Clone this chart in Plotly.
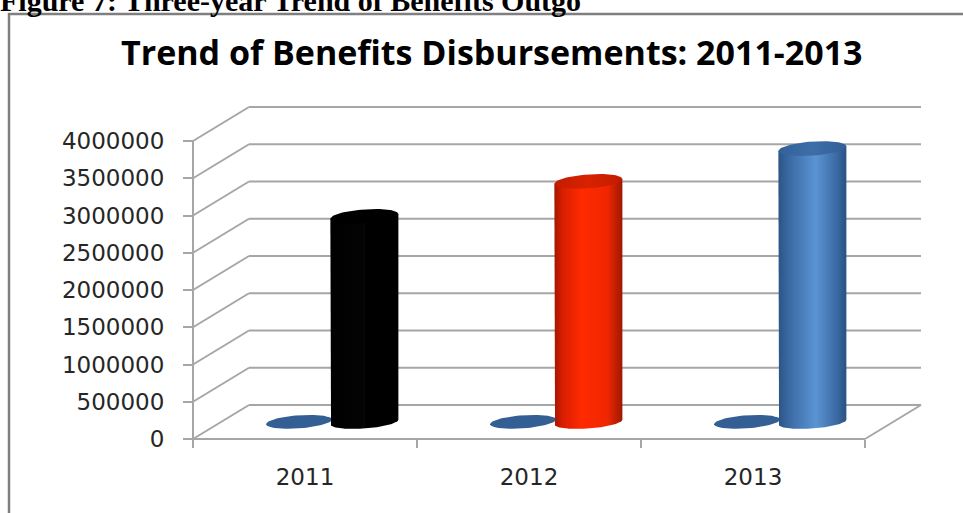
import numpy as np
import plotly.graph_objects as go

# ---------------- data ----------------
years = ["2011", "2012", "2013"]
year_values = [2011, 2012, 2013]              # first series (flat discs)
amounts = [2760000, 3230000, 3670000]         # benefits disbursed (cylinders)
y_ticks = [0, 500000, 1000000, 1500000, 2000000, 2500000, 3000000, 3500000, 4000000]
y_tick_text = [str(v) for v in y_ticks]
title_text = "Trend of Benefits Disbursements: 2011-2013"
caption_text = "Figure 7: Three-year Trend of Benefits Outgo"

# ---------------- layout geometry ----------------
W, H = 963, 513
ML, MR, MT, MB = 191, 40, 105, 72
PW, PH = W - ML - MR, H - MT - MB
PX_X = 224.0            # px per category
PX_Y = 74.5e-6          # px per value unit
x_rng = [-2 / PX_X, (PW - 2) / PX_X]
y_rng = [-2 / PX_Y, (PH - 2) / PX_Y]
DEPTH_X = 56 / PX_X
DEPTH_Y = 34 / PX_Y
MID_X, MID_Y = DEPTH_X / 2, DEPTH_Y / 2
SHEAR = 0.07

def px2paper_x(px):
    return (px - ML) / PW

def px2paper_y(py):
    return (H - MB - py) / PH

grid_col = "#a6a6a6"

fig = go.Figure()

def ellipse(cx, cy, a, b_px, t0=0, t1=2 * np.pi, n=80):
    t = np.linspace(t0, t1, n)
    a_px = a * PX_X
    xs = cx + a * np.cos(t)
    ys = cy + (b_px * np.sin(t) + SHEAR * a_px * np.cos(t)) / PX_Y
    return xs, ys

def shear(a):
    return SHEAR * a * PX_X / PX_Y

body_scales = [
    [[0, "#000000"], [0.48, "#040404"], [0.5, "#080808"], [0.52, "#000000"], [1, "#000000"]],
    [[0, "#a41600"], [0.12, "#d81e00"], [0.4, "#ff2a00"], [0.78, "#f02600"], [1, "#9e1800"]],
    [[0, "#2b5486"], [0.15, "#3a69a2"], [0.55, "#5a94d3"], [0.85, "#3c6ba4"], [1, "#2a5282"]],
]
top_scales = [
    [[0, "#000000"], [1, "#000000"]],
    [[0, "#c41c00"], [0.5, "#d82200"], [1, "#c01c00"]],
    [[0, "#33619a"], [0.5, "#3e6ea8"], [1, "#325e96"]],
]

CYL_OFF, DISC_OFF = 0.14, -0.152
CYL_A, DISC_A = 34 / PX_X, 33 / PX_X

for i, (yr, yv, amt) in enumerate(zip(years, year_values, amounts)):
    c = i + 0.5
    # disc (year series)
    dx_c = c + DISC_OFF + MID_X
    xs, ys = ellipse(dx_c, MID_Y + yv, DISC_A, 6.5)
    fig.add_trace(go.Scatter(x=xs, y=ys, fill="toself", mode="lines",
                             line=dict(width=0), fillcolor="#335f94",
                             hoverinfo="skip", showlegend=False))
    # cylinder body
    cx = c + CYL_OFF + MID_X
    y0 = MID_Y
    y1 = MID_Y + amt
    bx, by = ellipse(cx, y0, CYL_A, 6.5, np.pi, 2 * np.pi)
    px_ = np.concatenate([[cx - CYL_A], bx, [cx + CYL_A], [cx - CYL_A]])
    py_ = np.concatenate([[y1 - shear(CYL_A)], by, [y1 + shear(CYL_A)], [y1 - shear(CYL_A)]])
    fig.add_trace(go.Scatter(x=px_, y=py_, fill="toself", mode="lines",
                             line=dict(width=0),
                             fillgradient=dict(type="horizontal", colorscale=body_scales[i]),
                             hoverinfo="skip", showlegend=False))
    tx, ty = ellipse(cx, y1, CYL_A, 7)
    fig.add_trace(go.Scatter(x=tx, y=ty, fill="toself", mode="lines",
                             line=dict(width=0),
                             fillgradient=dict(type="horizontal", colorscale=top_scales[i]),
                             hoverinfo="skip", showlegend=False))

shapes = []
for v in y_ticks:
    shapes.append(dict(type="line", xref="x", yref="y", x0=0, y0=v, x1=DEPTH_X, y1=v + DEPTH_Y,
                       line=dict(color=grid_col, width=2), layer="below"))
    shapes.append(dict(type="line", xref="x", yref="y", x0=DEPTH_X, y0=v + DEPTH_Y, x1=3 + DEPTH_X,
                       y1=v + DEPTH_Y, line=dict(color=grid_col, width=2), layer="below"))
shapes.append(dict(type="line", xref="x", yref="y", x0=0, y0=0, x1=0, y1=y_ticks[-1],
                   line=dict(color=grid_col, width=2), layer="below"))
shapes.append(dict(type="line", xref="x", yref="y", x0=0, y0=0, x1=3, y1=0,
                   line=dict(color=grid_col, width=2), layer="below"))
shapes.append(dict(type="line", xref="x", yref="y", x0=3, y0=0, x1=3 + DEPTH_X, y1=DEPTH_Y,
                   line=dict(color=grid_col, width=2), layer="below"))
# outer frame of chart area
shapes.append(dict(type="rect", xref="paper", yref="paper",
                   x0=px2paper_x(9), y0=px2paper_y(14), x1=px2paper_x(990), y1=px2paper_y(540),
                   line=dict(color="#7f7f7f", width=2.5), layer="below"))

fig.update_layout(
    width=W, height=H,
    margin=dict(l=ML, r=MR, t=MT, b=MB, pad=0),
    paper_bgcolor="white", plot_bgcolor="white",
    showlegend=False,
    shapes=shapes,
    xaxis=dict(range=x_rng, tickvals=[0.5, 1.5, 2.5], ticktext=years, ticks="",
               showgrid=False, zeroline=False, showline=False,
               anchor="free", position=2 / PH,
               tickfont=dict(family="DejaVu Sans", size=23, color="#262626"),
               ticklabelstandoff=22,
               minor=dict(tickvals=[0, 1, 2, 3], ticks="outside", ticklen=8, tickwidth=2,
                          tickcolor=grid_col, showgrid=False)),
    yaxis=dict(range=y_rng, tickvals=y_ticks, ticktext=y_tick_text, ticks="outside",
               ticklen=10, tickwidth=2, tickcolor=grid_col,
               showgrid=False, zeroline=False, showline=False,
               anchor="free", position=2 / PW,
               tickfont=dict(family="DejaVu Sans", size=23, color="#262626"),
               ticklabelstandoff=14),
    annotations=[
        dict(text="<b>" + title_text + "</b>", xref="paper", yref="paper",
             x=px2paper_x(492), y=px2paper_y(52), xanchor="center", yanchor="middle",
             showarrow=False, font=dict(family="Open Sans", size=34, color="#000000")),
        dict(text="<b>" + caption_text + "</b>", xref="paper", yref="paper",
             x=px2paper_x(-2), y=px2paper_y(0), xanchor="left", yanchor="middle",
             showarrow=False, font=dict(family="Liberation Serif", size=30, color="#000000")),
    ],
)

fig.write_html("out.html", config={"displayModeBar": False},
               post_script="document.body.style.margin='0';")
